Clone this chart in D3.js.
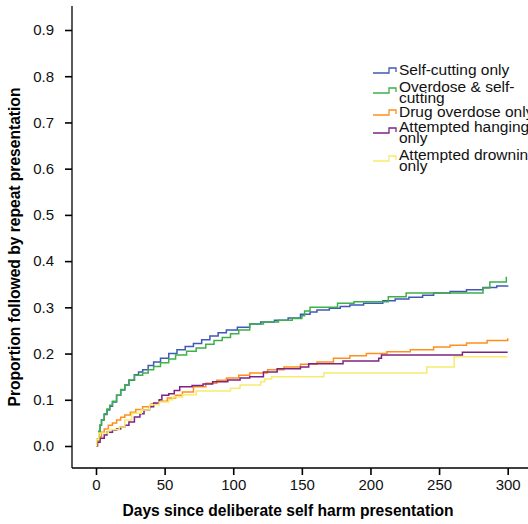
<!DOCTYPE html>
<html>
<head>
<meta charset="utf-8">
<script src="https://cdn.jsdelivr.net/npm/d3@7"></script>
<style>
  body { margin: 0; background: #fff; }
  svg { display: block; font-family: "Liberation Sans", Arial, sans-serif; }
</style>
</head>
<body>
<svg id="chart" width="528" height="524"></svg>
<script>
// step knots [day, proportion]
const selfCutting = [[0,0],[1,0.013],[2,0.03],[3,0.045],[4,0.056],[6,0.068],[8,0.078],[10,0.086],[12,0.095],[15,0.11],[18,0.121],[21,0.132],[24,0.142],[28,0.154],[31,0.16],[34,0.165],[38,0.174],[42,0.182],[47,0.19],[53,0.2],[59,0.208],[65,0.215],[71,0.222],[77,0.23],[83,0.238],[89,0.245],[95,0.251],[103,0.257],[112,0.264],[120,0.268],[130,0.272],[140,0.277],[149,0.285],[156,0.29],[161,0.294],[170,0.298],[178,0.302],[185,0.305],[195,0.309],[209,0.314],[218,0.318],[228,0.322],[238,0.326],[246,0.331],[258,0.334],[270,0.338],[282,0.343],[292,0.346],[300,0.347]];
const overdoseSelfCutting = [[0,0],[1,0.015],[2,0.032],[3,0.046],[4,0.056],[6,0.07],[8,0.08],[10,0.088],[12,0.097],[15,0.11],[18,0.122],[21,0.132],[24,0.143],[28,0.153],[34,0.158],[38,0.165],[42,0.172],[47,0.18],[53,0.188],[58,0.197],[66,0.205],[73,0.212],[80,0.22],[86,0.228],[92,0.235],[98,0.243],[104,0.251],[112,0.264],[122,0.268],[133,0.272],[143,0.276],[150,0.282],[152,0.292],[156,0.3],[176,0.309],[188,0.312],[213,0.323],[226,0.331],[282,0.342],[287,0.355],[299,0.366]];
const drugOverdose = [[0,0],[1,0.009],[2,0.02],[4,0.03],[6,0.037],[9,0.045],[12,0.05],[15,0.056],[18,0.062],[21,0.067],[25,0.073],[29,0.079],[34,0.085],[40,0.091],[46,0.097],[52,0.104],[58,0.11],[63,0.117],[71,0.128],[80,0.136],[88,0.142],[95,0.147],[104,0.153],[112,0.158],[125,0.165],[137,0.171],[149,0.177],[161,0.182],[173,0.19],[185,0.195],[197,0.2],[212,0.204],[229,0.208],[246,0.214],[258,0.218],[270,0.223],[285,0.228],[300,0.233]];
const attemptedHanging = [[0,0],[1,0.008],[3,0.017],[6,0.024],[8,0.03],[12,0.034],[15,0.037],[18,0.041],[21,0.045],[24,0.052],[28,0.063],[32,0.07],[35,0.078],[39,0.085],[42,0.093],[46,0.1],[48,0.11],[53,0.113],[57,0.12],[61,0.128],[70,0.131],[78,0.134],[85,0.139],[96,0.143],[105,0.147],[112,0.15],[122,0.16],[132,0.167],[149,0.171],[155,0.178],[180,0.184],[206,0.19],[208,0.197],[267,0.203],[300,0.203]];
const attemptedDrowning = [[0,0],[0.5,0.014],[2,0.028],[9,0.035],[17,0.041],[21,0.056],[26,0.071],[33,0.078],[39,0.089],[46,0.095],[53,0.1],[56,0.106],[63,0.111],[73,0.119],[98,0.125],[105,0.132],[120,0.139],[123,0.145],[128,0.15],[166,0.158],[241,0.171],[261,0.193],[300,0.193]];

const seriesNames = ['Self-cutting only', 'Overdose & self-cutting', 'Drug overdose only', 'Attempted hanging only', 'Attempted drowning only'];
const seriesData = [selfCutting, overdoseSelfCutting, drugOverdose, attemptedHanging, attemptedDrowning];
const seriesColors = ['#4059b5', '#3cb04a', '#ff8e1c', '#7b2484', '#f7eb6e'];
// legend text as it wraps in the original
const legendLines = [['Self-cutting only'], ['Overdose & self-', 'cutting'], ['Drug overdose only'], ['Attempted hanging', 'only'], ['Attempted drowning', 'only']];

const xTicks = [0, 50, 100, 150, 200, 250, 300];
const yTicks = [0, 0.1, 0.2, 0.3, 0.4, 0.5, 0.6, 0.7, 0.8, 0.9];

const svg = d3.select('#chart');

const x = d3.scaleLinear().domain([0, 300]).range([96, 507.7]);
const y = d3.scaleLinear().domain([0, 0.9]).range([446, 30]);

// axes: left spine from top of plot down to bottom spine
const yAxis = d3.axisLeft(y).tickValues(yTicks).tickFormat(d3.format('.1f')).tickSize(7).tickPadding(11).tickSizeOuter(0);
const gy = svg.append('g').attr('transform', 'translate(72,0)').call(yAxis);
gy.select('.domain').remove();
gy.append('line').attr('x1', 0).attr('x2', 0).attr('y1', 6).attr('y2', 468).attr('stroke', '#000').attr('stroke-width', 1.3);

const xAxis = d3.axisBottom(x).tickValues(xTicks).tickSize(7).tickPadding(4).tickSizeOuter(0);
const gx = svg.append('g').attr('transform', 'translate(0,468)').call(xAxis);
gx.select('.domain').remove();
gx.append('line').attr('x1', 72).attr('x2', 528).attr('y1', 0).attr('y2', 0).attr('stroke', '#000').attr('stroke-width', 1.3);

svg.selectAll('.tick line').attr('stroke-width', 1.6);
svg.selectAll('.tick text').attr('font-size', 15).attr('fill', '#111').attr('font-family', '"Liberation Sans", Arial, sans-serif');

// axis titles
svg.append('text')
  .attr('x', 288).attr('y', 516)
  .attr('text-anchor', 'middle')
  .attr('font-size', 15.6).attr('font-weight', 'bold')
  .text('Days since deliberate self harm presentation');

svg.append('text')
  .attr('transform', 'translate(20,247) rotate(-90)')
  .attr('text-anchor', 'middle')
  .attr('font-size', 15.6).attr('font-weight', 'bold')
  .text('Proportion followed by repeat presentation');

// step curves
const line = d3.line()
  .x(d => x(d[0]))
  .y(d => y(d[1]))
  .curve(d3.curveStepAfter);

svg.append('g').selectAll('path')
  .data(seriesData)
  .join('path')
  .attr('d', line)
  .attr('fill', 'none')
  .attr('stroke', (d, i) => seriesColors[i])
  .attr('stroke-width', 1.5);

// legend
const legendTop = [70, 87, 112, 127, 155];
const lg = svg.append('g');
seriesNames.forEach((name, i) => {
  const lines = legendLines[i];
  const t0 = legendTop[i];
  const symY = lines.length > 1 ? t0 + 4 : t0 + 1;
  lg.append('path')
    .attr('d', `M373,${symY + 2}H389V${symY - 3}H396V${symY + 1}`)
    .attr('fill', 'none')
    .attr('stroke', seriesColors[i])
    .attr('stroke-width', 1.3);
  lines.forEach((s, j) => {
    lg.append('text')
      .attr('x', 399).attr('y', t0 + j * 10.5)
      .attr('dy', '0.35em')
      .attr('font-size', 15.5)
      .attr('fill', '#111')
      .text(s);
  });
});
</script>
</body>
</html>
